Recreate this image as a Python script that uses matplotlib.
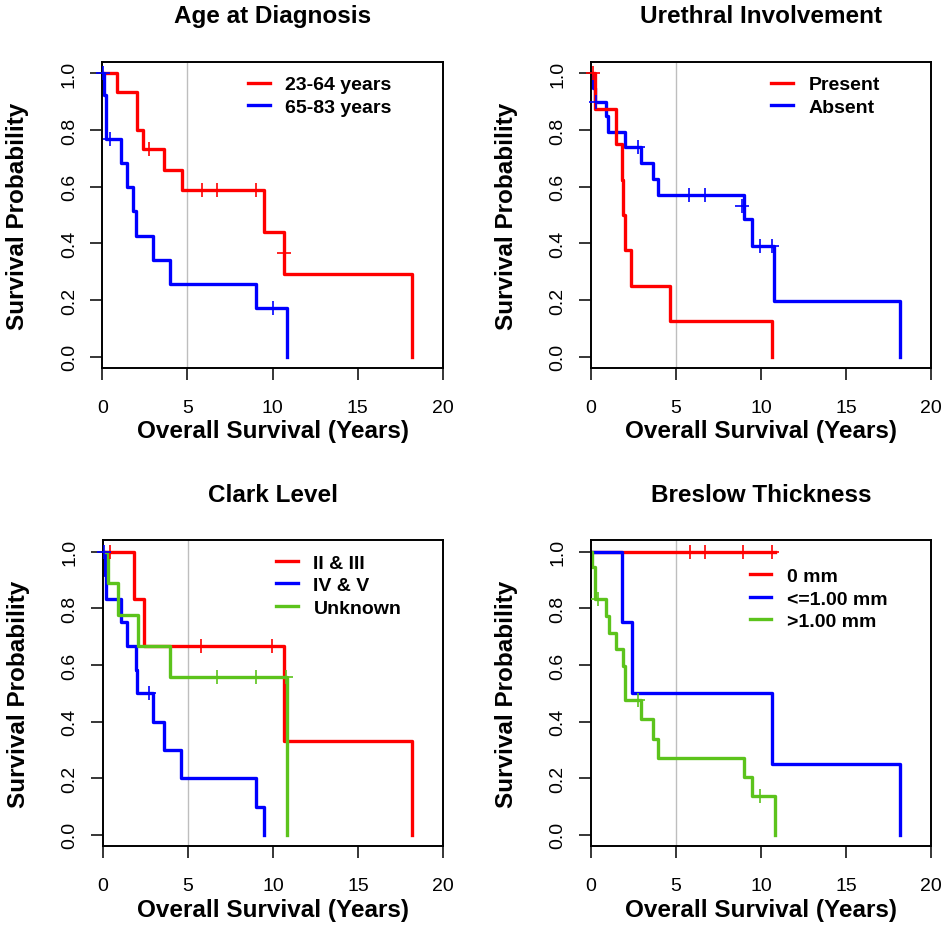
import matplotlib
matplotlib.use("Agg")
import matplotlib.pyplot as plt
from matplotlib.lines import Line2D

# ─────────────────────────────────────────────
# Kaplan-Meier curves, 2x2 panels
# step values
# ─────────────────────────────────────────────

plt.rcParams["font.family"] = ["Liberation Sans", "DejaVu Sans"]

RED   = "#FF0000"
BLUE  = "#0000FF"
GREEN = "#5CC31C"
GRAY  = "#BEBEBE"

# Age at Diagnosis
age_young_t  = [0, 0.85, 2.03, 2.42, 3.64, 4.68, 9.5, 10.68, 18.2]
age_young_s  = [1.0, 0.933, 0.80, 0.733, 0.66, 0.587, 0.44, 0.293, 0.0]
age_young_ct = [2.75, 5.85, 6.76, 9.02, 10.68]
age_young_cs = [0.733, 0.587, 0.587, 0.587, 0.367]

age_old_t  = [0, 0.12, 0.24, 1.08, 1.43, 1.82, 1.96, 2.96, 3.98, 9.02, 10.88]
age_old_s  = [1.0, 0.923, 0.769, 0.684, 0.598, 0.513, 0.427, 0.342, 0.256, 0.171, 0.0]
age_old_ct = [0.06, 0.47, 10.02]
age_old_cs = [1.0, 0.769, 0.171]

# Urethral Involvement
ure_present_t  = [0, 0.25, 1.47, 1.86, 1.92, 2.02, 2.37, 4.63, 10.65]
ure_present_s  = [1.0, 0.875, 0.75, 0.625, 0.5, 0.375, 0.25, 0.125, 0.0]
ure_present_ct = [0.14]
ure_present_cs = [1.0]

ure_absent_t  = [0, 0.15, 0.25, 0.88, 1.0, 2.02, 2.94, 3.65, 3.98, 8.98, 9.47, 10.75, 18.2]
ure_absent_s  = [1.0, 0.947, 0.898, 0.848, 0.794, 0.739, 0.682, 0.626, 0.569, 0.487, 0.389, 0.195, 0.0]
ure_absent_ct = [0.33, 2.77, 5.78, 6.72, 8.9, 9.96, 10.65]
ure_absent_cs = [0.898, 0.739, 0.569, 0.569, 0.53, 0.389, 0.389]

# Clark Level
clark_low_t  = [0, 1.87, 2.4, 10.68, 18.2]
clark_low_s  = [1.0, 0.833, 0.667, 0.333, 0.0]
clark_low_ct = [0.44, 5.78, 9.96]
clark_low_cs = [1.0, 0.667, 0.667]

clark_high_t  = [0, 0.12, 0.22, 1.06, 1.44, 1.97, 2.02, 2.93, 3.6, 4.62, 9.0, 9.45]
clark_high_s  = [1.0, 0.917, 0.833, 0.75, 0.667, 0.583, 0.5, 0.4, 0.3, 0.2, 0.1, 0.0]
clark_high_ct = [0.06, 2.72]
clark_high_cs = [1.0, 0.5]

clark_unk_t  = [0, 0.32, 0.9, 2.1, 3.96, 10.85]
clark_unk_s  = [1.0, 0.889, 0.778, 0.667, 0.556, 0.0]
clark_unk_ct = [6.73, 9.0, 10.8]
clark_unk_cs = [0.556, 0.556, 0.556]

# Breslow Thickness
bres_zero_t  = [0, 10.8]
bres_zero_s  = [1.0, 1.0]
bres_zero_ct = [5.82, 6.7, 8.96, 10.63]
bres_zero_cs = [1.0, 1.0, 1.0, 1.0]

bres_thin_t  = [0, 1.86, 2.4, 10.65, 18.2]
bres_thin_s  = [1.0, 0.75, 0.5, 0.25, 0.0]
bres_thin_ct = []
bres_thin_cs = []

bres_thick_t  = [0, 0.05, 0.27, 0.88, 1.08, 1.47, 1.92, 2.02, 2.96, 3.65, 3.94, 8.98, 9.47, 10.8]
bres_thick_s  = [1.0, 0.944, 0.833, 0.774, 0.714, 0.655, 0.595, 0.476, 0.408, 0.340, 0.272, 0.204, 0.136, 0.0]
bres_thick_ct = [0.43, 2.77, 9.96]
bres_thick_cs = [0.833, 0.476, 0.136]

# panel: title, axes rect (fig fraction), legend anchor, curves in draw order, legend order
panels = [
    ("Age at Diagnosis", [0.1079, 0.6024, 0.3591, 0.3297], (0.4286, 0.955),
     [("23-64 years", RED, age_young_t, age_young_s, age_young_ct, age_young_cs),
      ("65-83 years", BLUE, age_old_t, age_old_s, age_old_ct, age_old_cs)],
     ["23-64 years", "65-83 years"]),
    ("Urethral Involvement", [0.6231, 0.6024, 0.3591, 0.3297], (0.531, 0.955),
     [("Absent", BLUE, ure_absent_t, ure_absent_s, ure_absent_ct, ure_absent_cs),
      ("Present", RED, ure_present_t, ure_present_s, ure_present_ct, ure_present_cs)],
     ["Present", "Absent"]),
    ("Clark Level", [0.1083, 0.0870, 0.3591, 0.3297], (0.5106, 0.955),
     [("II & III", RED, clark_low_t, clark_low_s, clark_low_ct, clark_low_cs),
      ("IV & V", BLUE, clark_high_t, clark_high_s, clark_high_ct, clark_high_cs),
      ("Unknown", GREEN, clark_unk_t, clark_unk_s, clark_unk_ct, clark_unk_cs)],
     ["II & III", "IV & V", "Unknown"]),
    ("Breslow Thickness", [0.6231, 0.0870, 0.3591, 0.3297], (0.4674, 0.911),
     [("0 mm", RED, bres_zero_t, bres_zero_s, bres_zero_ct, bres_zero_cs),
      ("<=1.00 mm", BLUE, bres_thin_t, bres_thin_s, bres_thin_ct, bres_thin_cs),
      (">1.00 mm", GREEN, bres_thick_t, bres_thick_s, bres_thick_ct, bres_thick_cs)],
     ["0 mm", "<=1.00 mm", ">1.00 mm"]),
]

fig = plt.figure(figsize=(9.48, 9.28), dpi=100)

for title, rect, leg_xy, curves, leg_order in panels:
    ax = fig.add_axes(rect)
    ax.axvline(5, color=GRAY, lw=1.0, zorder=1)

    handles = {}
    for label, color, t, s, ct, cs in curves:
        ax.step(t, s, where="post", color=color, lw=2.4, zorder=2)
        handles[label] = Line2D([], [], color=color, lw=2.4)
        if ct:
            ax.plot(ct, cs, "+", color=color, markersize=9.5, mew=1.2,
                    zorder=3, clip_on=False)

    ax.set_xlim(0, 20)
    ax.set_ylim(-0.04, 1.04)
    ax.set_xticks([0, 5, 10, 15, 20])
    ax.set_yticks([0.0, 0.2, 0.4, 0.6, 0.8, 1.0])
    ax.set_yticklabels(["0.0", "0.2", "0.4", "0.6", "0.8", "1.0"],
                       rotation=90, va="center")
    ax.tick_params(axis="both", direction="out", length=8.6, width=1.1,
                   labelsize=14)
    ax.tick_params(axis="x", pad=13.5)
    ax.tick_params(axis="y", pad=9)
    for sp in ax.spines.values():
        sp.set_linewidth(1.4)

    ax.set_title(title, fontsize=17.5, fontweight="bold", pad=28.6)
    ax.set_xlabel("Overall Survival (Years)", fontsize=17.5, fontweight="bold")
    ax.set_ylabel("Survival Probability", fontsize=17.5, fontweight="bold")
    ax.xaxis.set_label_coords(0.5, -0.168)
    ax.yaxis.set_label_coords(-0.214, 0.5)

    ax.legend([handles[k] for k in leg_order], leg_order,
              loc="upper left", bbox_to_anchor=leg_xy, frameon=False,
              borderpad=0, borderaxespad=0, handlelength=1.1,
              handletextpad=0.8, labelspacing=0.25,
              prop={"weight": "bold", "size": 14})

plt.savefig("out.png", dpi=100)
plt.close()
